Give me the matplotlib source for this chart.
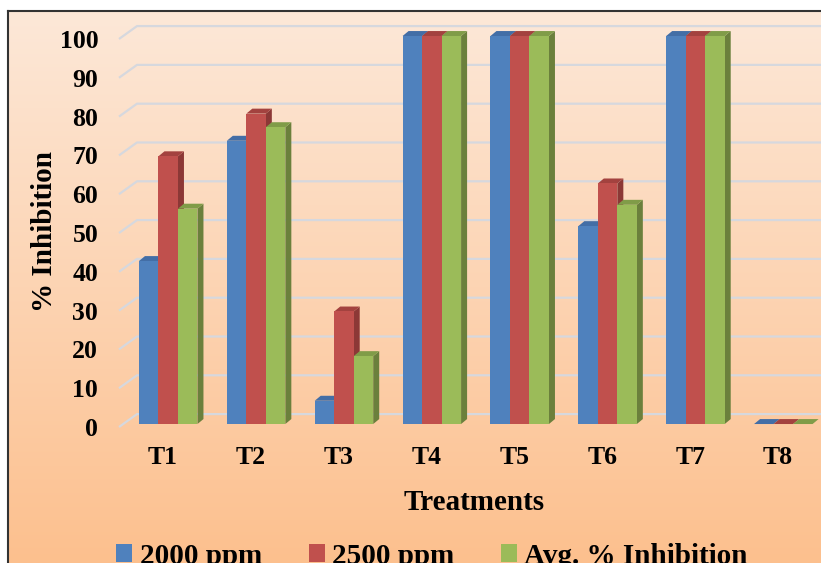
import matplotlib
matplotlib.use('Agg')
import matplotlib.pyplot as plt
import numpy as np
from matplotlib.patches import Polygon, Rectangle, Patch

plt.rcParams['font.family'] = ['Liberation Serif', 'DejaVu Serif']
plt.rcParams['font.weight'] = 'bold'

# data
treatments = ['T1', 'T2', 'T3', 'T4', 'T5', 'T6', 'T7', 'T8']
ppm_2000 = [42, 73, 6, 100, 100, 51, 100, 0]
ppm_2500 = [69, 80, 29, 100, 100, 62, 100, 0]
avg_inh = [55.5, 76.5, 17.5, 100, 100, 56.5, 100, 0]
series_names = ['2000 ppm', '2500 ppm', 'Avg. % Inhibition']
y_ticks = [0, 10, 20, 30, 40, 50, 60, 70, 80, 90, 100]

front_cols = ['#4f81bd', '#c0504d', '#9bbb59']
side_cols = ['#385d8a', '#8c3836', '#6b803c']
top_cols = ['#436ea6', '#a3423f', '#809c48']
grid_col = '#d6d8de'

W, H = 821, 563
fig = plt.figure(figsize=(W / 100, H / 100), dpi=100)

# background with gradient and border
bg = fig.add_axes([0, 0, 1, 1], zorder=0)
bg.set_xlim(0, W)
bg.set_ylim(H, 0)
bg.axis('off')
c_top = np.array(matplotlib.colors.to_rgb('#fde8d8'))
c_bot = np.array(matplotlib.colors.to_rgb('#fcc08e'))
t = np.linspace(0, 1, 256)[:, None, None]
grad = c_top * (1 - t) + c_bot * t
bg.imshow(grad, extent=[8, W, H, 11], aspect='auto', zorder=0)
bg.plot([8, W], [11, 11], color='#333333', lw=1.5, zorder=1)
bg.plot([8, 8], [11, H], color='#333333', lw=1.5, zorder=1)

# main axes: front plane
x0px, x1px = 119, 822
y0px, y1px = 427, 36
ax = fig.add_axes([x0px / W, 1 - y0px / H, (x1px - x0px) / W, (y0px - y1px) / H], zorder=1)
ax.patch.set_alpha(0)
ax.set_xlim(-0.5, 7.5)
ax.set_ylim(0, 100)
for s in ax.spines.values():
    s.set_visible(False)

pxx = (x1px - x0px) / 8.0
pxy = (y0px - y1px) / 100.0

# gridlines with the perspective stub
gdx, gfront, gback = 18 / pxx, 3 / pxy, 10 / pxy
for v in y_ticks:
    ax.plot([-0.5, -0.5 + gdx, 7.6], [v - gfront, v + gback, v + gback],
            color=grid_col, lw=1.6, clip_on=False, zorder=1, solid_capstyle='butt')

# 3D-ish bars
bw = 19.5 / pxx
bdx, bdy = 6 / pxx, 5 / pxy
shift = 0.06
series = [ppm_2000, ppm_2500, avg_inh]
z = 2
for i in range(len(treatments)):
    for k, vals in enumerate(series):
        h = vals[i]
        xl = i + shift + (k - 1.5) * bw
        xr = xl + bw
        ax.add_patch(Polygon([(xr, 0), (xr + bdx, bdy), (xr + bdx, h + bdy), (xr, h)],
                             closed=True, fc=side_cols[k], ec='none', clip_on=False, zorder=z))
        ax.add_patch(Polygon([(xl, h), (xl + bdx, h + bdy), (xr + bdx, h + bdy), (xr, h)],
                             closed=True, fc=top_cols[k], ec='none', clip_on=False, zorder=z))
        if h > 0:
            ax.add_patch(Rectangle((xl, 0), bw, h, fc=front_cols[k], ec='none',
                                   clip_on=False, zorder=z))
        z += 1

ax.set_xticks(range(len(treatments)))
ax.set_xticklabels(treatments)
ax.set_yticks([v - gfront for v in y_ticks])
ax.set_yticklabels([str(v) for v in y_ticks])
ax.tick_params(axis='y', length=0, pad=15, labelsize=18.5)
ax.tick_params(axis='x', length=0, pad=14, labelsize=18.5)

ax.set_ylabel('% Inhibition', fontsize=21, fontweight='bold')
ax.yaxis.set_label_coords((58 - x0px) / (x1px - x0px), 0.5)
ax.set_xlabel('Treatments', fontsize=21, fontweight='bold')
ax.xaxis.set_label_coords((474 - x0px) / (x1px - x0px), (y0px - 489) / (y0px - y1px))

handles = [Patch(fc=c, ec='none') for c in front_cols]
fig.legend(handles, series_names, loc='center', bbox_to_anchor=(432 / W, 1 - 556 / H),
           ncol=3, frameon=False, fontsize=21, handlelength=0.55, handleheight=0.55,
           handletextpad=0.25, columnspacing=1.6, borderpad=0, borderaxespad=0)

fig.savefig('out.png', dpi=100)
